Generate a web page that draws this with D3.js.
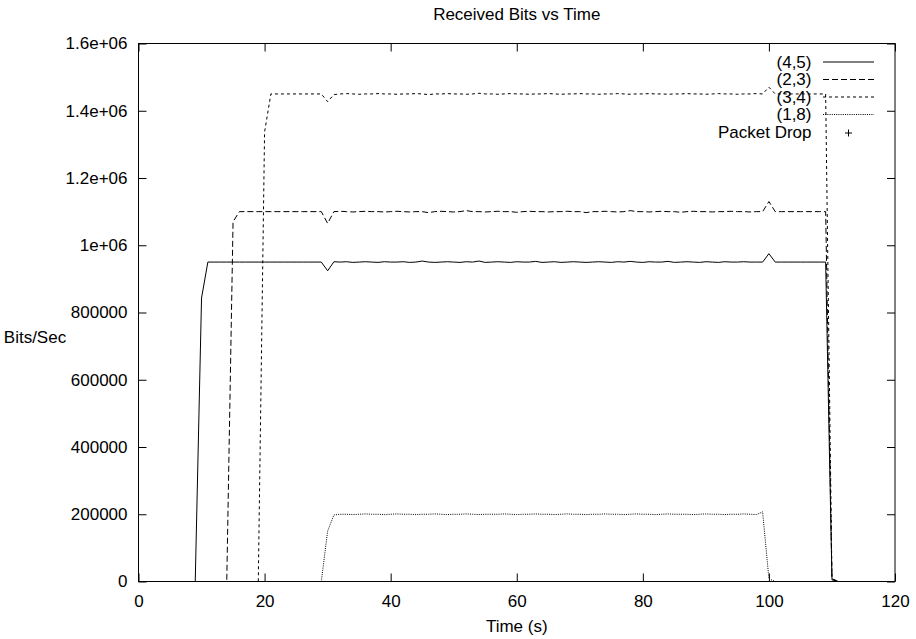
<!DOCTYPE html>
<html>
<head>
<meta charset="utf-8">
<script src="https://cdn.jsdelivr.net/npm/d3@7"></script>
<style>
  body { margin: 0; background: #fff; }
  svg { display: block; }
  text { font-family: "Liberation Sans", Arial, sans-serif; font-size: 17px; fill: #000; }
</style>
</head>
<body>
<script>
// sample times (s), one sample per second
const time = [
  0,1,2,3,4,5,6,7,8,9, 10,11,12,13,14,15,16,17,18,19,
  20,21,22,23,24,25,26,27,28,29, 30,31,32,33,34,35,36,37,38,39,
  40,41,42,43,44,45,46,47,48,49, 50,51,52,53,54,55,56,57,58,59,
  60,61,62,63,64,65,66,67,68,69, 70,71,72,73,74,75,76,77,78,79,
  80,81,82,83,84,85,86,87,88,89, 90,91,92,93,94,95,96,97,98,99,
  100,101,102,103,104,105,106,107,108,109, 110,111,112,113,114,115,116,117,118,119
];

// received bits/sec per flow
const flow45 = [
  0,0,0,0,0,0,0,0,0,0,
  843000,950000,950000,950000,950000,950000,950000,950000,950000,950000,
  950000,950000,950000,950000,950000,950000,950000,950000,950000,950000,
  924000,951000,950000,951000,949000,950000,951000,950000,949000,951000,
  950000,950000,951000,949000,950000,953000,950000,949000,950000,951000,
  950000,949000,951000,950000,953000,949000,950000,951000,950000,949000,
  951000,950000,950000,952000,949000,950000,951000,949000,950000,951000,
  950000,949000,950000,951000,950000,949000,951000,950000,952000,950000,
  949000,951000,950000,950000,952000,949000,950000,951000,950000,949000,
  951000,950000,949000,951000,950000,950000,951000,950000,950000,950000,
  975000,950000,950000,950000,950000,950000,950000,950000,950000,950000,
  8000,0,0,0,0,0,0,0,0,0
];
const flow23 = [
  0,0,0,0,0,0,0,0,0,0,
  0,0,0,0,0,1070000,1100000,1100000,1100000,1100000,
  1100000,1100000,1100000,1100000,1100000,1100000,1100000,1100000,1100000,1100000,
  1065000,1100000,1101000,1100000,1099000,1100000,1101000,1100000,1100000,1099000,
  1100000,1101000,1100000,1099000,1100000,1100000,1097000,1100000,1101000,1100000,
  1099000,1100000,1103000,1100000,1100000,1099000,1100000,1101000,1100000,1100000,
  1098000,1100000,1101000,1100000,1100000,1099000,1100000,1100000,1101000,1100000,
  1100000,1097000,1100000,1100000,1101000,1100000,1099000,1100000,1103000,1100000,
  1100000,1099000,1100000,1101000,1100000,1100000,1098000,1100000,1101000,1100000,
  1100000,1099000,1100000,1100000,1101000,1100000,1100000,1099000,1100000,1100000,
  1130000,1100000,1100000,1100000,1100000,1100000,1100000,1100000,1100000,1100000,
  5000,0,0,0,0,0,0,0,0,0
];
const flow34 = [
  0,0,0,0,0,0,0,0,0,0,
  0,0,0,0,0,0,0,0,0,0,
  1337000,1450000,1450000,1450000,1450000,1450000,1450000,1450000,1450000,1450000,
  1427000,1448000,1450000,1451000,1450000,1449000,1450000,1450000,1451000,1450000,
  1450000,1449000,1450000,1450000,1451000,1450000,1448000,1450000,1450000,1451000,
  1450000,1450000,1449000,1450000,1452000,1450000,1450000,1449000,1450000,1451000,
  1450000,1450000,1449000,1450000,1450000,1451000,1450000,1449000,1450000,1450000,
  1451000,1450000,1450000,1449000,1450000,1450000,1451000,1450000,1449000,1450000,
  1450000,1451000,1450000,1450000,1449000,1450000,1450000,1451000,1450000,1450000,
  1449000,1450000,1451000,1450000,1450000,1449000,1450000,1450000,1451000,1450000,
  1470000,1450000,1450000,1450000,1450000,1450000,1450000,1450000,1450000,1450000,
  8000,0,0,0,0,0,0,0,0,0
];
const flow18 = [
  0,0,0,0,0,0,0,0,0,0,
  0,0,0,0,0,0,0,0,0,0,
  0,0,0,0,0,0,0,0,0,0,
  150000,198000,200000,200000,199000,200000,201000,200000,200000,199000,
  200000,201000,200000,200000,199000,200000,200000,201000,200000,199000,
  200000,200000,201000,200000,199000,200000,200000,200000,201000,200000,
  199000,200000,200000,201000,200000,200000,199000,200000,201000,200000,
  200000,199000,200000,200000,201000,200000,200000,199000,200000,201000,
  200000,200000,199000,200000,201000,200000,200000,200000,199000,200000,
  201000,200000,200000,199000,200000,200000,201000,200000,199000,207000,
  8000,0,0,0,0,0,0,0,0,0,
  0,0,0,0,0,0,0,0,0,0
];

const seriesNames = ["(4,5)", "(2,3)", "(3,4)", "(1,8)"];
const seriesValues = [flow45, flow23, flow34, flow18];
const xTicks = [0, 20, 40, 60, 80, 100, 120];
const yTicks = [0, 200000, 400000, 600000, 800000, 1000000, 1200000, 1400000, 1600000];
const yTickLabels = ["0", "200000", "400000", "600000", "800000", "1e+06", "1.2e+06", "1.4e+06", "1.6e+06"];

const width = 916, height = 639;
const marginLeft = 138.5, marginRight = 21, marginTop = 43.5, marginBottom = 57.5;
const dashes = [null, "6,3", "3,3", "1,1.2"];

const svg = d3.select("body").append("svg")
    .attr("width", width)
    .attr("height", height);

const x = d3.scaleLinear().domain([0, 120]).range([marginLeft, width - marginRight]);
const y = d3.scaleLinear().domain([0, 1600000]).range([height - marginBottom, marginTop]);

// axes: gnuplot style inward ticks, mirrored on top/right
svg.append("g")
    .attr("transform", `translate(0,${y(0)})`)
    .call(d3.axisBottom(x).tickValues(xTicks).tickSize(-8).tickPadding(13).tickFormat(d3.format("d")))
    .call(g => g.select(".domain").remove())
    .call(g => g.selectAll("text").attr("font-size", null).attr("font-family", null));

svg.append("g")
    .attr("transform", `translate(0,${marginTop})`)
    .call(d3.axisTop(x).tickValues(xTicks).tickSize(-8).tickFormat(""))
    .call(g => g.select(".domain").remove());

svg.append("g")
    .attr("transform", `translate(${marginLeft},0)`)
    .call(d3.axisLeft(y).tickValues(yTicks).tickSize(-8).tickPadding(11)
        .tickFormat((d, i) => yTickLabels[i]))
    .call(g => g.select(".domain").remove())
    .call(g => g.selectAll("text").attr("font-size", null).attr("font-family", null));

svg.append("g")
    .attr("transform", `translate(${width - marginRight},0)`)
    .call(d3.axisRight(y).tickValues(yTicks).tickSize(-8).tickFormat(""))
    .call(g => g.select(".domain").remove());

svg.selectAll(".tick line").attr("stroke", "#000");

// series lines
const line = d3.line()
    .x((d, i) => x(time[i]))
    .y(d => y(d));

svg.append("g")
    .selectAll("path")
    .data(seriesValues)
    .join("path")
    .attr("d", line)
    .attr("fill", "none")
    .attr("stroke", "#000")
    .attr("stroke-width", 1)
    .attr("stroke-dasharray", (d, i) => dashes[i]);

// border
svg.append("rect")
    .attr("x", marginLeft)
    .attr("y", marginTop)
    .attr("width", width - marginRight - marginLeft)
    .attr("height", height - marginBottom - marginTop)
    .attr("fill", "none")
    .attr("stroke", "#000")
    .attr("stroke-width", 1);

// legend
const legendX = 811.5, legendY = 62, legendStep = 17.5;
const legend = svg.append("g");
seriesNames.concat(["Packet Drop"]).forEach((name, i) => {
    const ly = legendY + i * legendStep;
    legend.append("text")
        .attr("x", legendX)
        .attr("y", ly)
        .attr("dy", "0.35em")
        .attr("text-anchor", "end")
        .text(name);
    if (i < seriesNames.length) {
        legend.append("line")
            .attr("x1", 823).attr("x2", 874)
            .attr("y1", ly).attr("y2", ly)
            .attr("stroke", "#000")
            .attr("stroke-dasharray", dashes[i]);
    } else {
        legend.append("path")
            .attr("d", `M845,${ly + 1}h7M848.5,${ly - 2.5}v7`)
            .attr("stroke", "#000");
    }
});

// titles
svg.append("text")
    .attr("x", (marginLeft + width - marginRight) / 2)
    .attr("y", 20)
    .attr("text-anchor", "middle")
    .text("Received Bits vs Time");

svg.append("text")
    .attr("x", (marginLeft + width - marginRight) / 2)
    .attr("y", 632)
    .attr("text-anchor", "middle")
    .text("Time (s)");

svg.append("text")
    .attr("x", 35)
    .attr("y", 337)
    .attr("dy", "0.35em")
    .attr("text-anchor", "middle")
    .text("Bits/Sec");
</script>
</body>
</html>
